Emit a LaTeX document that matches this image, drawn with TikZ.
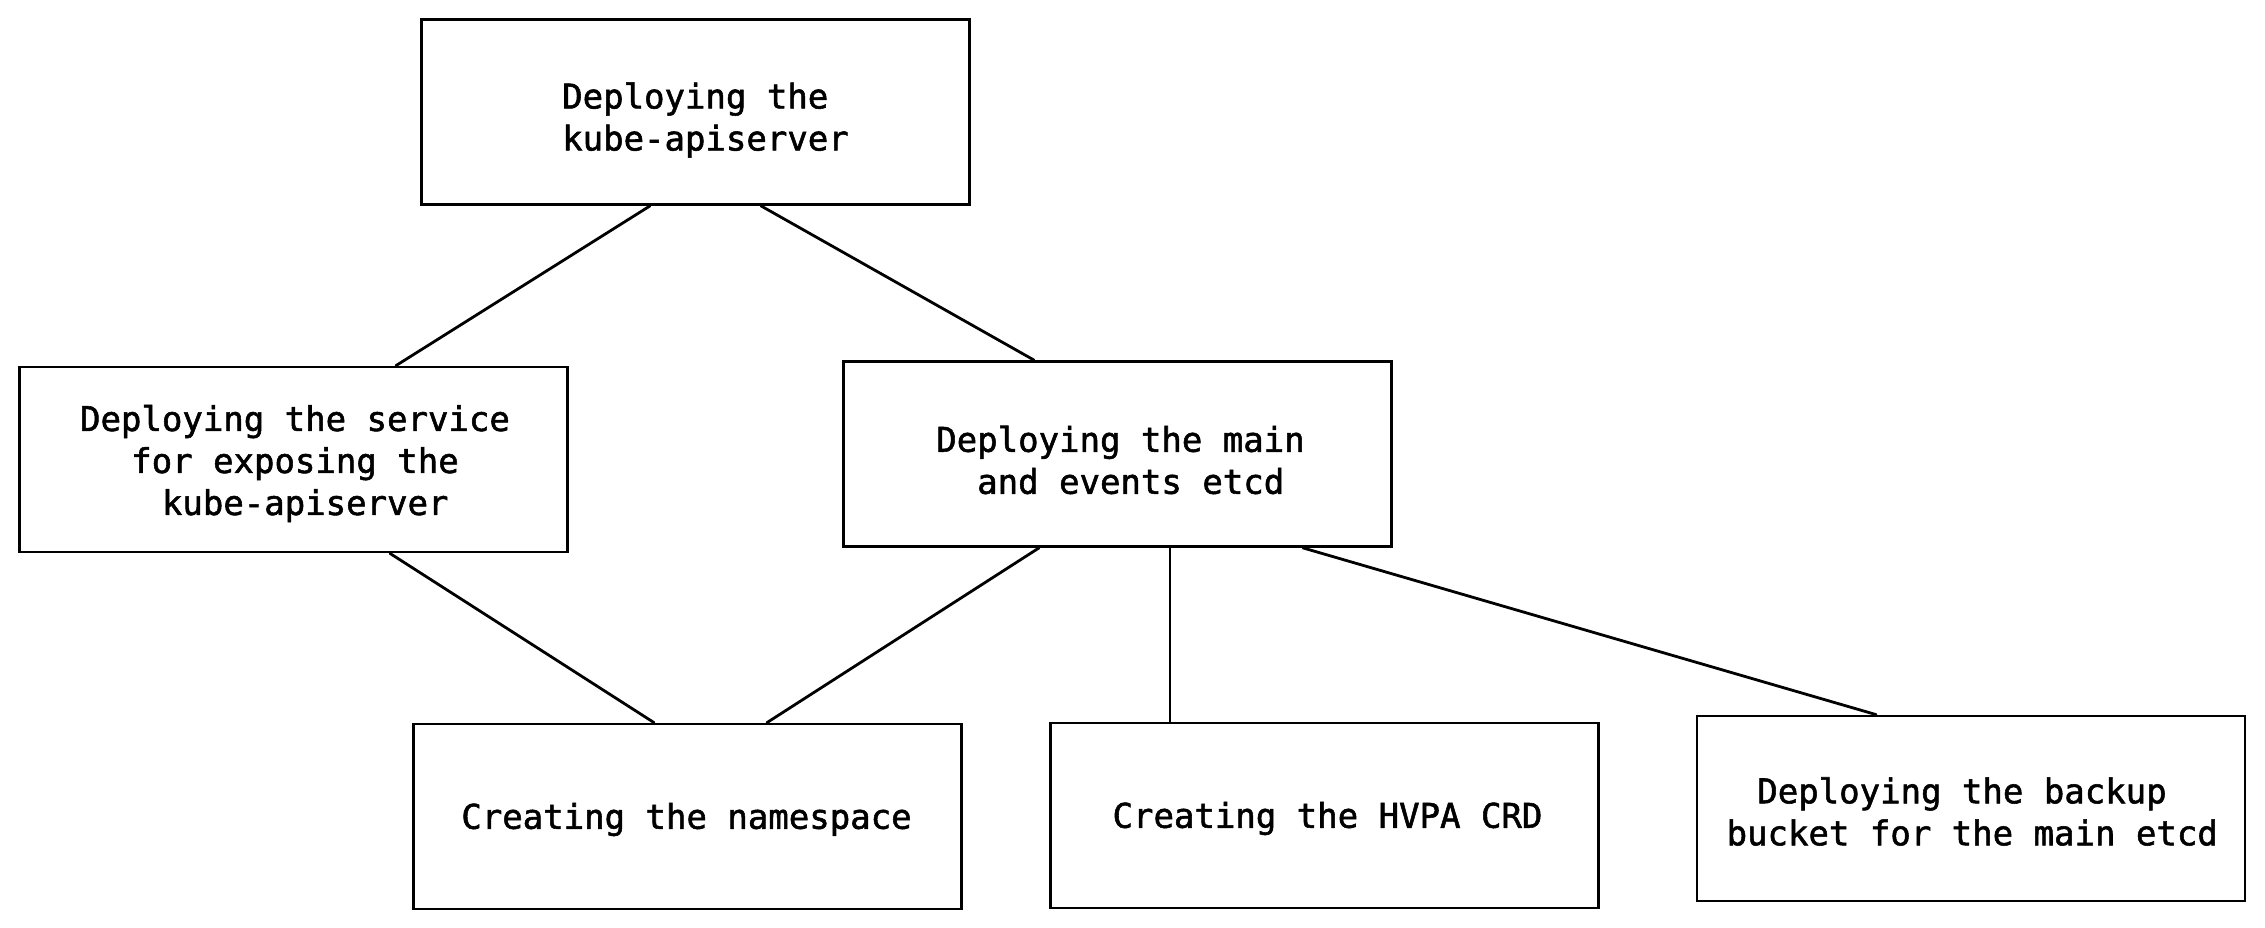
\documentclass[tikz,border=0pt]{standalone}
\usepackage{fontspec}
\newfontfamily\diagmono{DejaVu Sans Mono}[FakeBold=1.6]
\tikzset{
  stepbox/.style={draw=black, line width=2.8pt, fill=white, minimum width=548pt, minimum height=185pt,
    inner sep=0pt},
  steptext/.style={inner sep=0pt, align=center, font=\diagmono\fontsize{34}{42}\selectfont},
  link/.style={draw=black, line width=2.8pt, line cap=round}
}
\begin{document}
\begin{tikzpicture}[x=1pt,y=-1pt]
\useasboundingbox[fill=white] (0,0) rectangle (2265,928);
\node[stepbox] (top) at (695.5,112) {};
\node[stepbox] (svc) at (293.5,459.5) {};
\node[stepbox] (etcd) at (1117.5,454) {};
\node[stepbox] (ns) at (687.5,816.5) {};
\node[stepbox] (hvpa) at (1324.5,815.5) {};
\node[stepbox] (bkp) at (1971,808.5) {};
\node[steptext] (topT) at ([shift={(10,8)}]top.center) {Deploying the\hphantom{x}\\kube-apiserver};
\node[steptext] (svcT) at ([shift={(1.5,4)}]svc.center) {Deploying the service\\for exposing the\\\hphantom{x}kube-apiserver};
\node[steptext] (etcdT) at ([shift={(3,6)}]etcd.center) {Deploying the main\\\hphantom{x}and events etcd};
\node[steptext] (nsT) at ([shift={(-1,3)}]ns.center) {Creating the namespace};
\node[steptext] (hvpaT) at ([shift={(3,3)}]hvpa.center) {Creating the HVPA CRD};
\node[steptext] (bkpT) at ([shift={(-9,3)}]bkp.center) {Deploying the backup\\\hphantom{x}bucket for the main etcd};
\draw[link] ([xshift=-45.5pt]top.south) -- ([xshift=102.5pt]svc.north);
\draw[link] ([xshift=65.5pt]top.south) -- ([xshift=-83.5pt]etcd.north);
\draw[link] ([xshift=96.5pt]svc.south) -- ([xshift=-33.5pt]ns.north);
\draw[link] ([xshift=-78.5pt]etcd.south) -- ([xshift=79.5pt]ns.north);
\draw[link] ([xshift=52.5pt]etcd.south) -- ([xshift=-154.5pt]hvpa.north);
\draw[link] ([xshift=185.5pt]etcd.south) -- ([xshift=-95pt]bkp.north);
\end{tikzpicture}
\end{document}
